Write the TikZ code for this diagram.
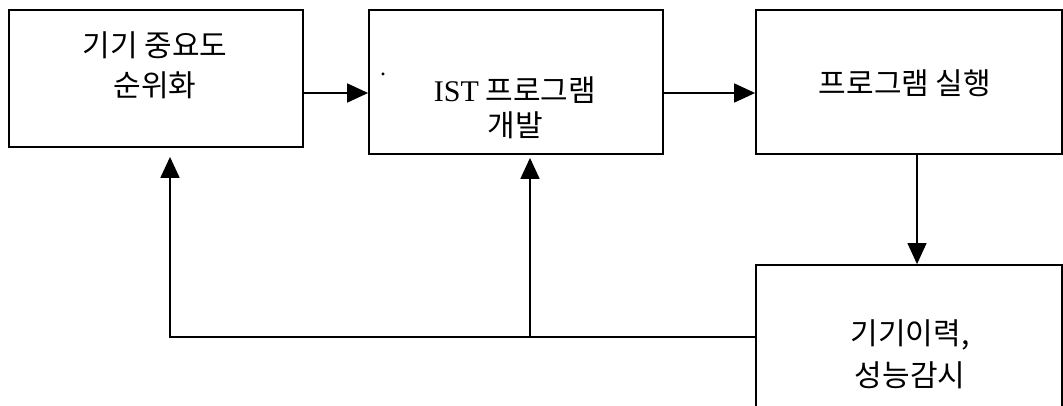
\documentclass[tikz,border=0pt]{standalone}
\usepackage{fontspec}
\setmainfont{Liberation Serif}
\newfontfamily\kr{Noto Sans CJK KR}
\usetikzlibrary{arrows.meta}

\begin{document}
\begin{tikzpicture}[x=1pt, y=-1pt,
  box/.style={draw, line width=1.8pt, inner sep=0pt},
  lbl/.style={align=center, inner sep=0pt, font=\kr\fontsize{30}{40}\selectfont},
  arr/.style={line width=1.8pt, -{Triangle[length=21pt, width=19pt]}}]
\useasboundingbox (0,0) rectangle (1063,405);
\node [box, minimum width=294pt, minimum height=137pt] (prio) at (156,78.5) {};
\node [box, minimum width=294pt, minimum height=144pt] (dev) at (516,82) {};
\node [box, minimum width=306pt, minimum height=144pt] (run) at (909,82) {};
\node [box, minimum width=306pt, minimum height=178pt] (mon) at (909,354) {};
\node [lbl] (prio-t) at (155,65) {기기 중요도\\순위화};
\node [lbl, font=\kr\fontsize{30}{35}\selectfont] (dev-t) at (515,107.5) {{\rmfamily IST} 프로그램\\개발};
\node [lbl, font=\rmfamily\fontsize{24}{24}\selectfont] (dev-dot) at (383,74) {.};
\node [lbl] (run-t) at (905,83) {프로그램 실행};
\node [lbl, font=\kr\fontsize{30}{42}\selectfont] (mon-t) at (910,354) {기기이력,\\성능감시};
\coordinate (fwd) at (0,93);
\coordinate (down) at (917,0);
\coordinate (cn) at (170,337);
\coordinate (jn) at (530,337);
\draw [arr] (prio.east |- fwd) -- (dev.west |- fwd);
\draw [arr] (dev.east |- fwd) -- (run.west |- fwd);
\draw [arr, line width=1.2pt] (down |- run.south) -- (down |- mon.north);
\draw [arr, shorten >=9pt] (mon.west |- jn) -- (cn) -- (cn |- prio.south);
\draw [arr, shorten >=3pt] (jn) -- (jn |- dev.south);
\end{tikzpicture}
\end{document}
